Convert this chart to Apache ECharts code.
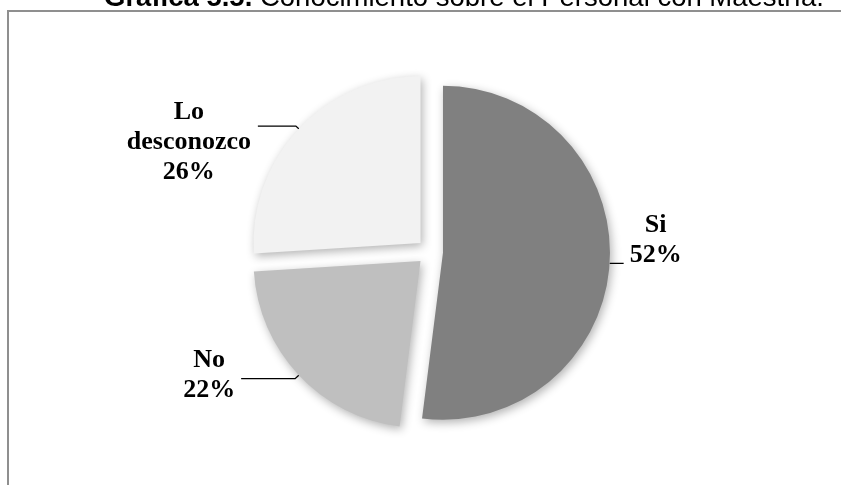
<!DOCTYPE html>
<html>
<head>
<meta charset="utf-8">
<script src="https://cdn.jsdelivr.net/npm/echarts@6/dist/echarts.min.js"></script>
<style>
  html, body { margin: 0; padding: 0; background: #fff; }
  #chart { width: 841px; height: 485px; }
</style>
</head>
<body>
<div id="chart"></div>
<script>
// data
const categories = ["Si", "No", "Lo desconozco"];
const values = [52, 22, 26];
const colors = ["#808080", "#bfbfbf", "#f2f2f2"];

// label tweaks per slice (line lengths, padding to place text like the original)
const labelTweaks = [
  { length: 2, length2: 12, padding: [0, 0, 46, 0], width: 54 },
  { length: 5, length2: 54, padding: [0, 0, 6, 0], width: 54 },
  { length: 4, length2: 38, padding: [32, 0, 0, 0], width: 128 }
];

const chart = echarts.init(document.getElementById("chart"));

chart.setOption({
  animation: false,
  title: {
    text: "{b|Gráfica 5.5.} Conocimiento sobre el Personal con Maestría.",
    left: 459,
    top: -21,
    textAlign: "center",
    textStyle: {
      fontFamily: "Liberation Sans",
      fontSize: 27.5,
      fontWeight: "normal",
      color: "#000",
      rich: {
        b: { fontFamily: "Liberation Sans", fontSize: 27.5, fontWeight: "bold", color: "#000" }
      }
    }
  },
  graphic: [
    {
      type: "rect",
      shape: { x: 8, y: 11, width: 900, height: 490 },
      style: { fill: "none", stroke: "#8f8f8f", lineWidth: 2 },
      silent: true
    }
  ],
  series: [
    {
      type: "pie",
      center: [430, 252],
      radius: 167,
      startAngle: 90,
      clockwise: true,
      selectedMode: "multiple",
      selectedOffset: 13,
      avoidLabelOverlap: false,
      emphasis: { disabled: true },
      itemStyle: {
        shadowBlur: 10,
        shadowOffsetX: 2,
        shadowOffsetY: 3,
        shadowColor: "rgba(0,0,0,0.3)"
      },
      label: {
        show: true,
        position: "outside",
        color: "#000",
        fontFamily: "Liberation Serif",
        fontWeight: "bold",
        fontSize: 26,
        lineHeight: 30,
        distanceToLabelLine: 5
      },
      labelLine: {
        show: true,
        lineStyle: { color: "#000", width: 1.3 }
      },
      data: categories.map((name, i) => ({
        name: name,
        value: values[i],
        selected: true,
        itemStyle: { color: colors[i] },
        label: {
          padding: labelTweaks[i].padding,
          formatter: (p) => p.name.split(" ").concat(p.value + "%").map(s => "{c|" + s + "}").join("\n"),
          rich: {
            c: {
              width: labelTweaks[i].width,
              align: "center",
              fontFamily: "Liberation Serif",
              fontWeight: "bold",
              fontSize: 26,
              lineHeight: 30,
              color: "#000"
            }
          }
        },
        labelLine: { length: labelTweaks[i].length, length2: labelTweaks[i].length2 }
      }))
    }
  ]
});
</script>
</body>
</html>
